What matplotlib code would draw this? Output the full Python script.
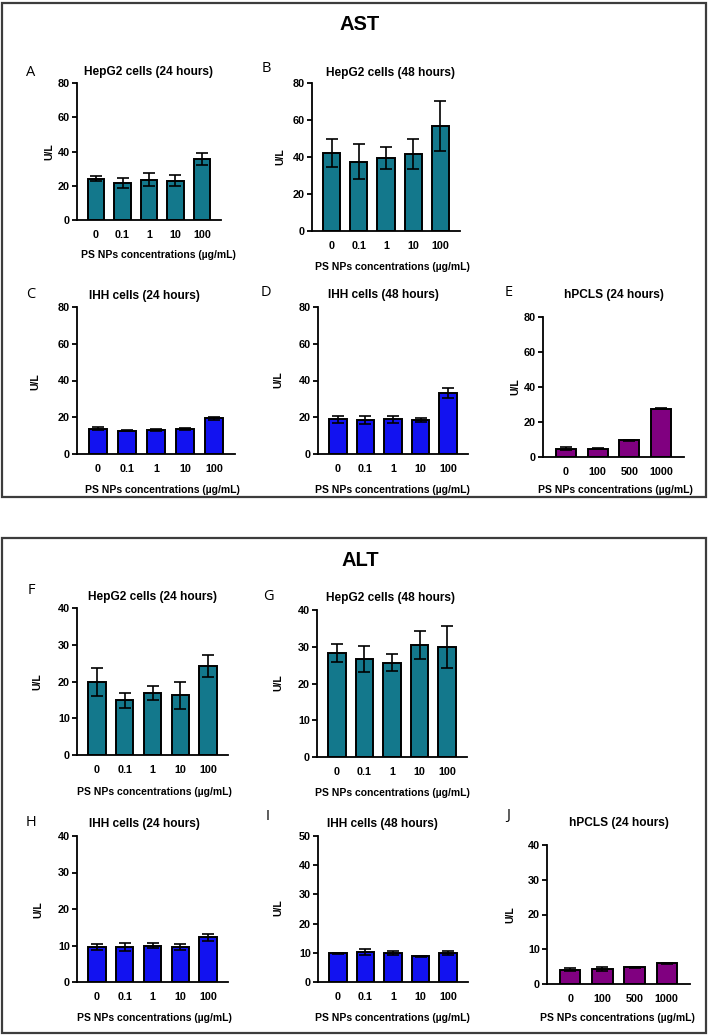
import numpy as np
import matplotlib
matplotlib.use("Agg")
import matplotlib.pyplot as plt
from matplotlib.patches import Rectangle

plt.rcParams['font.family'] = ['Liberation Sans', 'DejaVu Sans']

# ---- data (U/L, mean and error) ----
conc5 = ['0', '0.1', '1', '10', '100']
conc4 = ['0', '100', '500', '1000']

ast_hepg2_24 = [24.0, 21.5, 23.5, 23.0, 35.5]
ast_hepg2_24_err = [1.5, 3.0, 3.8, 3.0, 3.5]
ast_hepg2_48 = [42.0, 37.5, 39.5, 41.5, 56.8]
ast_hepg2_48_err = [7.5, 9.3, 5.8, 8.0, 13.7]
ast_ihh_24 = [13.7, 12.7, 13.2, 13.6, 19.4]
ast_ihh_24_err = [0.9, 0.2, 0.6, 0.7, 0.9]
ast_ihh_48 = [18.9, 18.5, 18.9, 18.5, 33.1]
ast_ihh_48_err = [1.8, 2.0, 1.8, 1.2, 2.8]
ast_hpcls = [4.8, 4.7, 9.7, 27.6]
ast_hpcls_err = [0.9, 0.2, 0.3, 0.3]

alt_hepg2_24 = [19.9, 14.9, 16.9, 16.2, 24.2]
alt_hepg2_24_err = [3.9, 2.1, 1.8, 3.6, 3.0]
alt_hepg2_48 = [28.3, 26.6, 25.6, 30.6, 29.9]
alt_hepg2_48_err = [2.5, 3.6, 2.3, 3.8, 5.7]
alt_ihh_24 = [9.6, 9.6, 9.9, 9.6, 12.2]
alt_ihh_24_err = [0.7, 1.0, 0.7, 0.7, 1.0]
alt_ihh_48 = [9.8, 10.2, 9.9, 8.8, 9.9]
alt_ihh_48_err = [0.2, 1.1, 0.8, 0.2, 0.8]
alt_hpcls = [4.1, 4.4, 4.8, 5.9]
alt_hpcls_err = [0.4, 0.6, 0.2, 0.1]

teal = '#13788C'
blue = '#1212F0'
purple = '#800080'

W, H = 709, 1036
fig = plt.figure(figsize=(W / 100, H / 100), dpi=100)


def ftext(x, y, s, **kw):
    fig.text(x / W, 1 - y / H, s, ha=kw.pop('ha', 'center'), va=kw.pop('va', 'center'), **kw)


def panel(letter, title, cats, vals, errs, color, ymax, ystep,
          box, letter_xy, title_xy, ylab_xy, xlab_xy):
    l, t, r, b = box
    ax = fig.add_axes([l / W, 1 - b / H, (r - l) / W, (b - t) / H])
    x = np.arange(len(cats))
    ax.bar(x, vals, width=0.63, color=color, edgecolor='black', linewidth=1.4, zorder=2)
    ax.errorbar(x, vals, yerr=errs, fmt='none', ecolor='black', elinewidth=1.2,
                capsize=4.2, capthick=1.2, zorder=3)
    ax.set_xlim(-0.72, len(cats) - 0.28)
    ax.set_ylim(0, ymax)
    ax.set_yticks(np.arange(0, ymax + 1, ystep))
    ax.set_xticks(x)
    ax.set_xticklabels(cats)
    for s in ['top', 'right']:
        ax.spines[s].set_visible(False)
    for s in ['left', 'bottom']:
        ax.spines[s].set_linewidth(1.3)
    ax.tick_params(axis='y', length=3.5, width=1.3, pad=1.5, labelsize=7.8)
    ax.tick_params(axis='x', length=0, pad=7, labelsize=7.8)
    for lab in ax.get_xticklabels() + ax.get_yticklabels():
        lab.set_fontweight('bold')
    ax.patch.set_alpha(0)
    ftext(*letter_xy, letter, fontsize=10.5, family=['Open Sans', 'DejaVu Sans'])
    ftext(*title_xy, title, fontsize=8.6, fontweight='bold')
    ftext(*ylab_xy, 'U/L', fontsize=7.5, fontweight='bold', rotation=90)
    ftext(*xlab_xy, 'PS NPs concentrations (\u00b5g/mL)', fontsize=7.5, fontweight='bold')


# outer boxes
for top, bottom in [(3, 497), (538, 1033)]:
    fig.patches.append(Rectangle((2 / W, 1 - bottom / H), 704 / W, (bottom - top) / H,
                                 transform=fig.transFigure, fill=False,
                                 edgecolor='#3c3c3c', linewidth=1.6))

ftext(360, 24, 'AST', fontsize=14.5, fontweight='bold')
ftext(360, 560, 'ALT', fontsize=14.5, fontweight='bold')

# AST
panel('A', 'HepG2 cells (24 hours)', conc5, ast_hepg2_24, ast_hepg2_24_err, teal, 80, 20,
      (77, 83, 221, 220), (31, 72), (148, 72), (49, 152), (158, 255))
panel('B', 'HepG2 cells (48 hours)', conc5, ast_hepg2_48, ast_hepg2_48_err, teal, 80, 20,
      (312, 83, 460, 231), (266, 68), (390, 73), (280, 157), (392, 267))
panel('C', 'IHH cells (24 hours)', conc5, ast_ihh_24, ast_ihh_24_err, blue, 80, 20,
      (77, 307, 235, 454), (31, 294), (144, 296), (35, 382), (162, 490))
panel('D', 'IHH cells (48 hours)', conc5, ast_ihh_48, ast_ihh_48_err, blue, 80, 20,
      (318, 307, 468, 454), (266, 293), (383, 295), (278, 380), (392, 490))
panel('E', 'hPCLS (24 hours)', conc4, ast_hpcls, ast_hpcls_err, purple, 80, 20,
      (543, 317, 684, 457), (509, 293), (614, 295), (515, 387), (615, 490))

# ALT
panel('F', 'HepG2 cells (24 hours)', conc5, alt_hepg2_24, alt_hepg2_24_err, teal, 40, 10,
      (77, 608, 228, 755), (31, 590), (152, 597), (37, 682), (154, 792))
panel('G', 'HepG2 cells (48 hours)', conc5, alt_hepg2_48, alt_hepg2_48_err, teal, 40, 10,
      (317, 610, 467, 757), (268, 596), (391, 598), (278, 683), (392, 793))
panel('H', 'IHH cells (24 hours)', conc5, alt_ihh_24, alt_ihh_24_err, blue, 40, 10,
      (77, 836, 228, 982), (31, 822), (144, 824), (38, 910), (154, 1018))
panel('I', 'IHH cells (48 hours)', conc5, alt_ihh_48, alt_ihh_48_err, blue, 50, 10,
      (318, 836, 468, 982), (268, 817), (382, 824), (278, 908), (392, 1018))
panel('J', 'hPCLS (24 hours)', conc4, alt_hpcls, alt_hpcls_err, purple, 40, 10,
      (547, 845, 690, 984), (508, 815), (619, 823), (510, 915), (617, 1018))

fig.savefig('out.png', dpi=100)
